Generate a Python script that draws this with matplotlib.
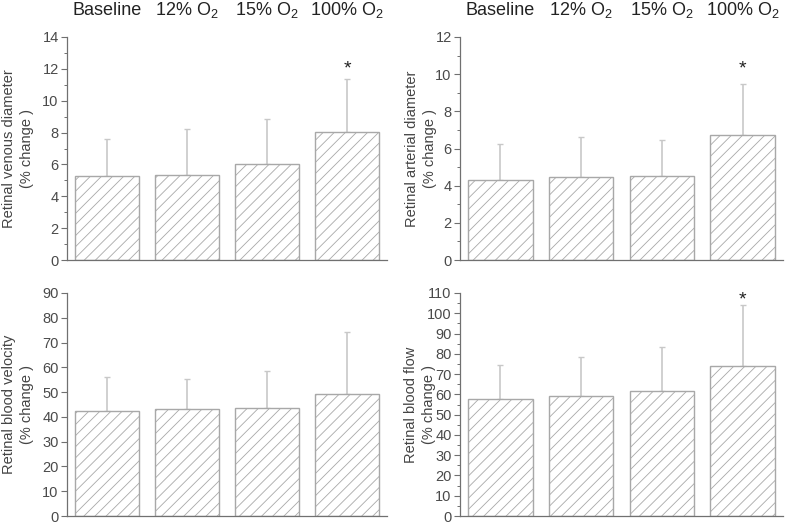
import matplotlib
matplotlib.use("Agg")
import matplotlib.pyplot as plt
from matplotlib.ticker import MultipleLocator
from matplotlib.transforms import blended_transform_factory

plt.rcParams['font.family'] = ['Liberation Sans', 'DejaVu Sans']
plt.rcParams['mathtext.fontset'] = 'custom'
plt.rcParams['mathtext.rm'] = 'Liberation Sans'
plt.rcParams['mathtext.default'] = 'regular'
plt.rcParams['hatch.color'] = '#b4b4b4'
plt.rcParams['hatch.linewidth'] = 0.6

categories = ['Baseline', '12% O$_2$', '15% O$_2$', '100% O$_2$']

venous_mean = [5.3, 5.35, 6.0, 8.05]
venous_err = [2.3, 2.9, 2.85, 3.3]
arterial_mean = [4.28, 4.45, 4.5, 6.72]
arterial_err = [1.97, 2.15, 1.98, 2.73]
velocity_mean = [42.2, 43.0, 43.7, 49.3]
velocity_err = [14.0, 12.4, 14.8, 25.0]
flow_mean = [57.7, 59.3, 61.7, 74.2]
flow_err = [16.9, 19.1, 21.6, 30.1]

star_venous = 12.4
star_arterial = 10.65
star_flow = 110.0

panels = [
    dict(mean=venous_mean, err=venous_err, ylim=14, major=2, minor=1,
         label='Retinal venous diameter\n(% change )', star=star_venous,
         rect=[67/787, 1-260/523, 320/787, 223/523], lab_off=-49),
    dict(mean=arterial_mean, err=arterial_err, ylim=12, major=2, minor=1,
         label='Retinal arterial diameter\n(% change )', star=star_arterial,
         rect=[460/787, 1-260/523, 323/787, 223/523], lab_off=-39),
    dict(mean=velocity_mean, err=velocity_err, ylim=90, major=10, minor=None,
         label='Retinal blood velocity\n(% change )', star=None,
         rect=[67/787, 1-516/523, 320/787, 223/523], lab_off=-49),
    dict(mean=flow_mean, err=flow_err, ylim=110, major=10, minor=5,
         label='Retinal blood flow\n(% change )', star=star_flow,
         rect=[460/787, 1-516/523, 323/787, 223/523], lab_off=-40),
]

fig = plt.figure(figsize=(7.87, 5.23), dpi=100)
axc = '#707070'
x = list(range(len(categories)))

for k, p in enumerate(panels):
    ax = fig.add_axes(p['rect'])
    ax.bar(x, p['mean'], width=0.8, color='white', edgecolor='#a8a8a8',
           linewidth=1.0, hatch='///', zorder=2)
    ax.errorbar(x, p['mean'], yerr=[[0]*4, p['err']], fmt='none',
                ecolor='#c8c8c8', elinewidth=1.2, capsize=2, capthick=1.0, zorder=1)
    ax.set_xlim(-0.5, 3.5)
    ax.set_ylim(0, p['ylim'])
    ax.yaxis.set_major_locator(MultipleLocator(p['major']))
    if p['minor']:
        ax.yaxis.set_minor_locator(MultipleLocator(p['minor']))
    ax.set_xticks([])
    for s in ['top', 'right']:
        ax.spines[s].set_visible(False)
    for s in ['left', 'bottom']:
        ax.spines[s].set_color(axc)
        ax.spines[s].set_linewidth(0.9)
    ax.tick_params(axis='y', which='major', length=4, width=0.8, color=axc,
                   labelsize=10.5, labelcolor='#4a4a4a', pad=2)
    ax.tick_params(axis='y', which='minor', length=2, width=0.7, color=axc)
    w = p['rect'][2] * 787
    ax.text(p['lab_off'] / w, 0.5, p['label'], transform=ax.transAxes,
            rotation=90, ha='center', va='center', multialignment='center',
            fontsize=10.5, color='#444444', linespacing=1.3)
    if p['star'] is not None:
        ax.annotate('*', xy=(3, p['star']), xytext=(0, -8),
                    textcoords='offset points', ha='center', va='baseline',
                    fontsize=14, color='#222222', annotation_clip=False)
    if k < 2:
        tr = blended_transform_factory(ax.transData, fig.transFigure)
        for i, c in enumerate(categories):
            ax.text(i, 1 - 15/523, c, transform=tr, ha='center', va='baseline',
                    fontsize=13, color='#222222')

fig.savefig('out.png', dpi=100)
